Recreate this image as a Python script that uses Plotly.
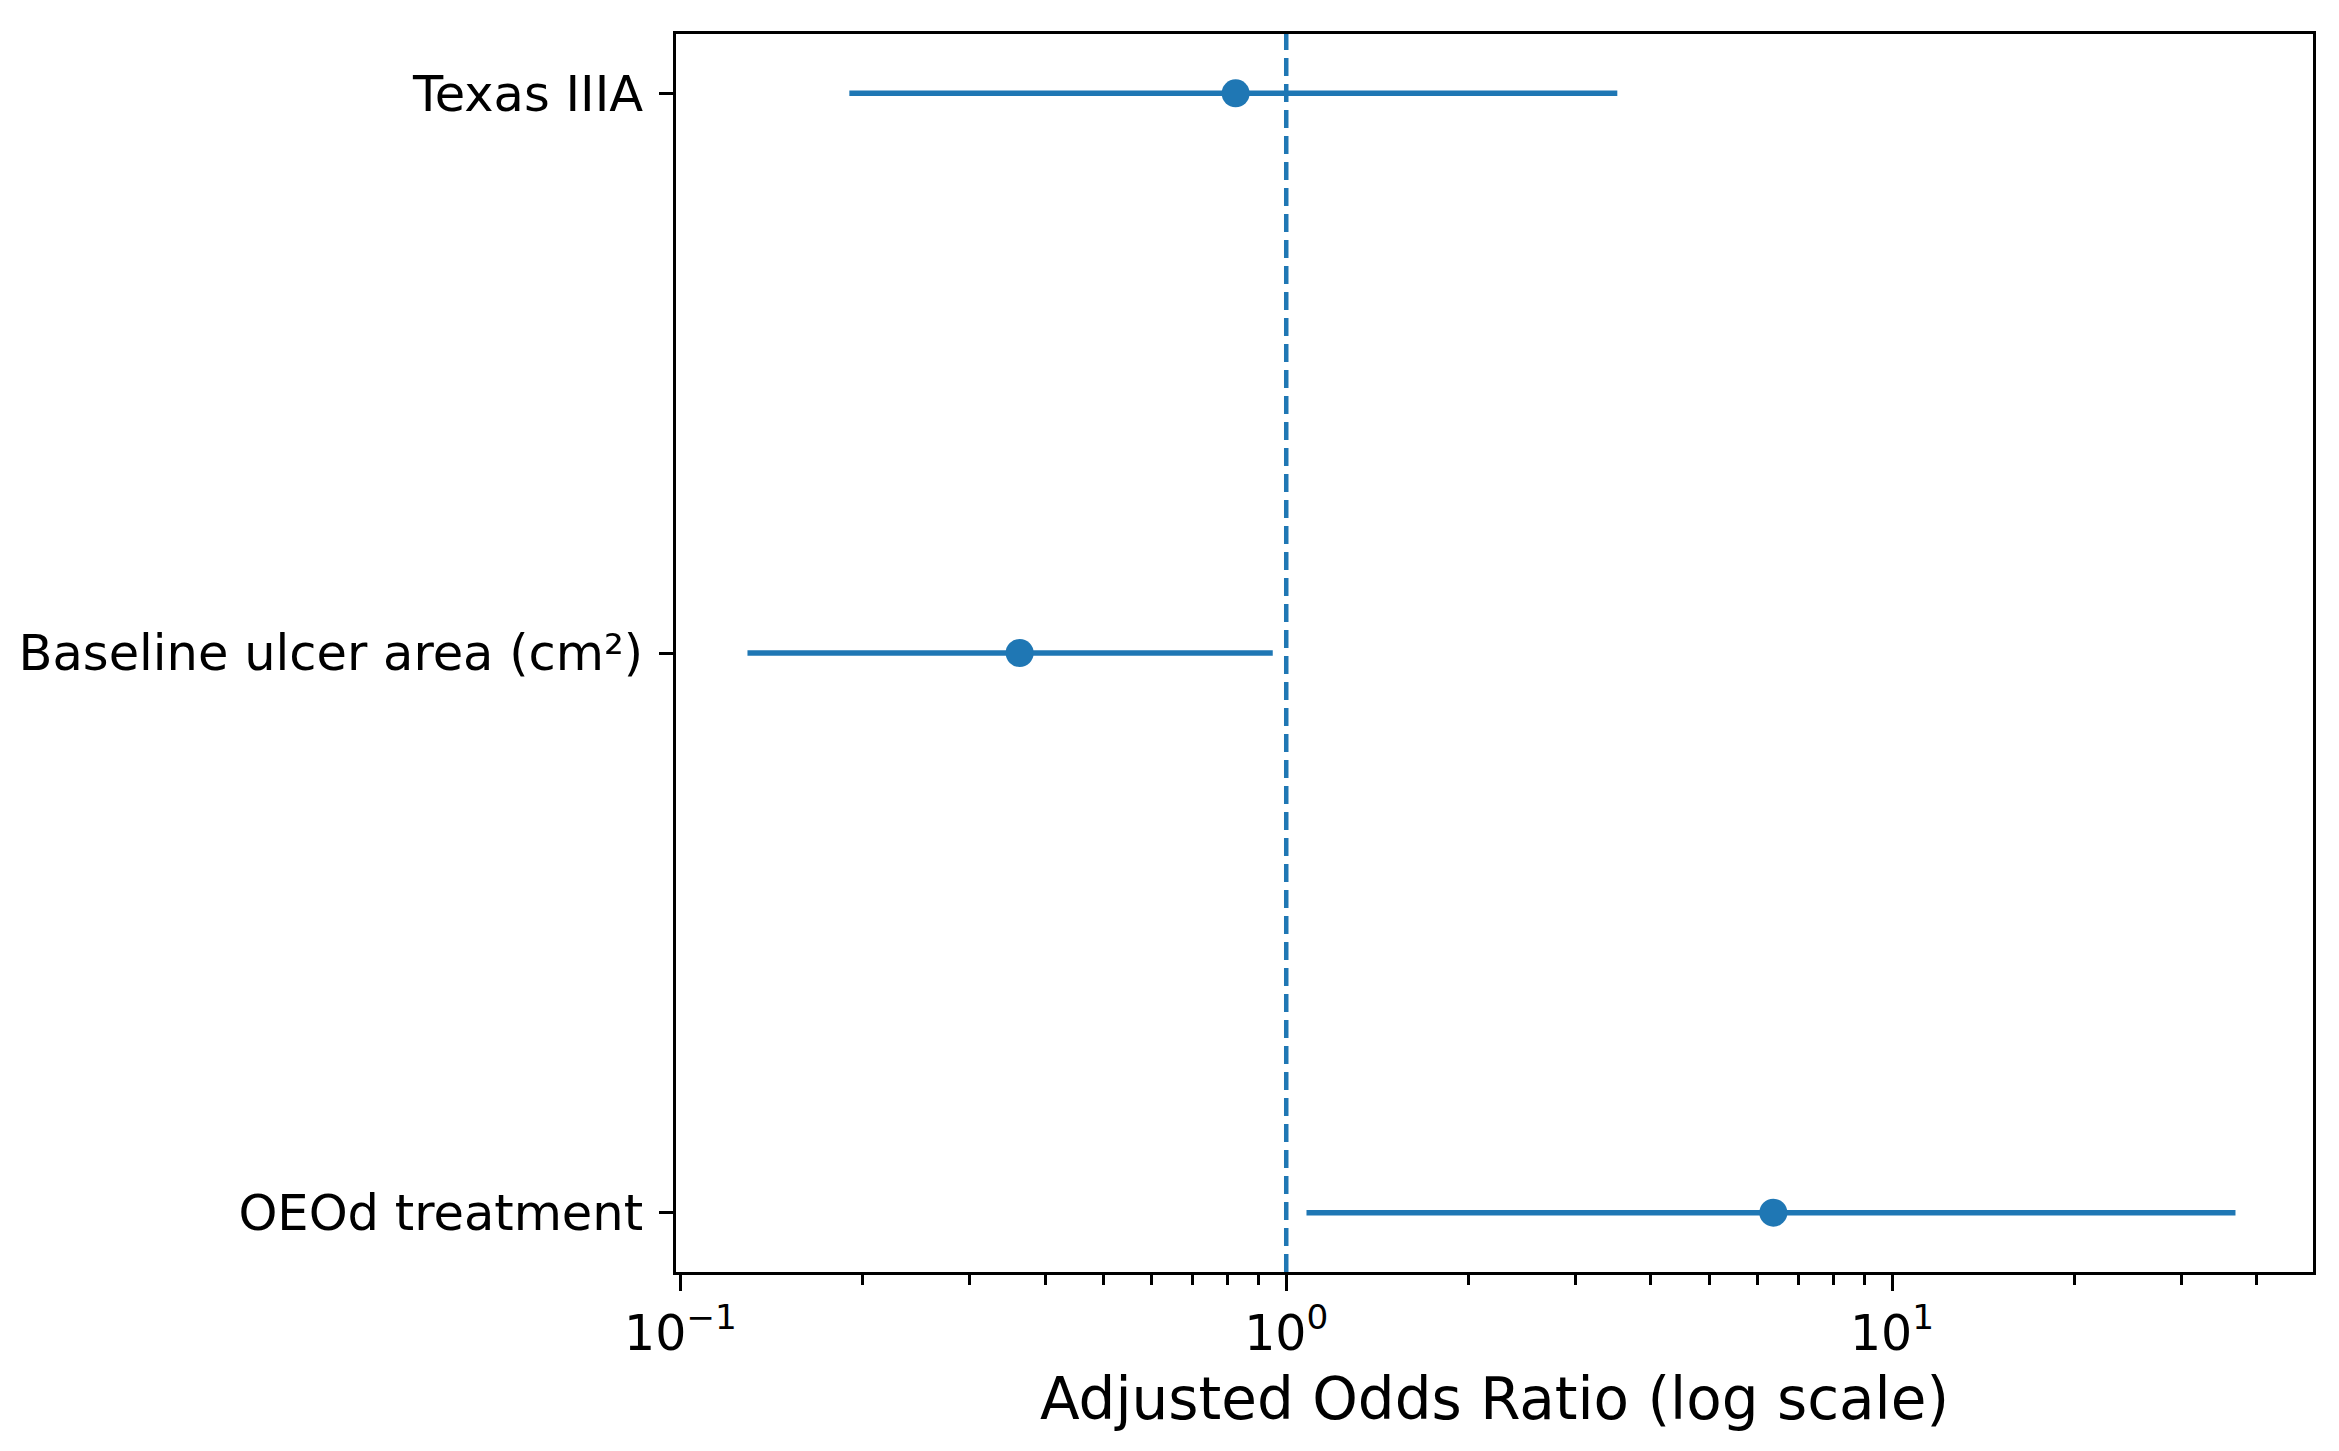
import plotly.graph_objects as go

# Data
labels = ["OEOd treatment", "Baseline ulcer area (cm²)", "Texas IIIA"]
odds_ratio = [6.37, 0.363, 0.825]
ci_low = [1.08, 0.129, 0.19]
ci_high = [36.9, 0.95, 3.52]
ref_value = 1.0
x_tick_vals = [0.1, 1, 10]
x_tick_text = ["10<sup>−1</sup>", "10<sup>0</sup>", "10<sup>1</sup>"]

BLUE = "#1f77b4"
FONT = "DejaVu Sans"

minor_vals = [m * 10.0 ** e for e in (-1, 0, 1) for m in range(2, 10)]
minor_vals = [v for v in minor_vals if v < 45]

fig = go.Figure()
fig.add_trace(go.Scatter(
    x=odds_ratio,
    y=labels,
    mode="markers",
    marker=dict(color=BLUE, size=28, line=dict(width=0)),
    error_x=dict(
        type="data",
        symmetric=False,
        array=[h - o for h, o in zip(ci_high, odds_ratio)],
        arrayminus=[o - l for o, l in zip(odds_ratio, ci_low)],
        color=BLUE,
        thickness=5.5,
        width=0,
    ),
    showlegend=False,
))

fig.add_shape(
    type="line", xref="x", yref="paper",
    x0=ref_value, x1=ref_value, y0=0, y1=1,
    line=dict(color=BLUE, width=4.5, dash="18px,8px"),
    layer="above",
)

fig.update_layout(
    width=2339,
    height=1451,
    paper_bgcolor="white",
    plot_bgcolor="white",
    margin=dict(l=668, r=34, t=26, b=187, pad=0),
    font=dict(family=FONT, color="black", size=49),
)

fig.update_xaxes(
    type="log",
    range=[-1.0074, 1.695],
    tickvals=x_tick_vals,
    ticktext=x_tick_text,
    ticks="outside",
    ticklen=16,
    tickwidth=3,
    tickcolor="black",
    tickfont=dict(family=FONT, size=49, color="black"),
    minor=dict(tickvals=minor_vals, ticks="outside", ticklen=10, tickwidth=2.5, tickcolor="black"),
    showgrid=False,
    zeroline=False,
    showline=True,
    linecolor="black",
    linewidth=3,
    mirror=True,
    title=dict(text="Adjusted Odds Ratio (log scale)", font=dict(family=FONT, size=58, color="black"), standoff=18),
)

fig.update_yaxes(
    type="category",
    categoryorder="array",
    categoryarray=labels,
    range=[-0.106, 2.106],
    ticks="outside",
    ticklen=14,
    tickwidth=3,
    tickcolor="black",
    tickfont=dict(family=FONT, size=49.5, color="black"),
    ticklabelstandoff=6,
    showgrid=False,
    zeroline=False,
    showline=True,
    linecolor="black",
    linewidth=3,
    mirror=True,
)

fig.write_html("out.html")
